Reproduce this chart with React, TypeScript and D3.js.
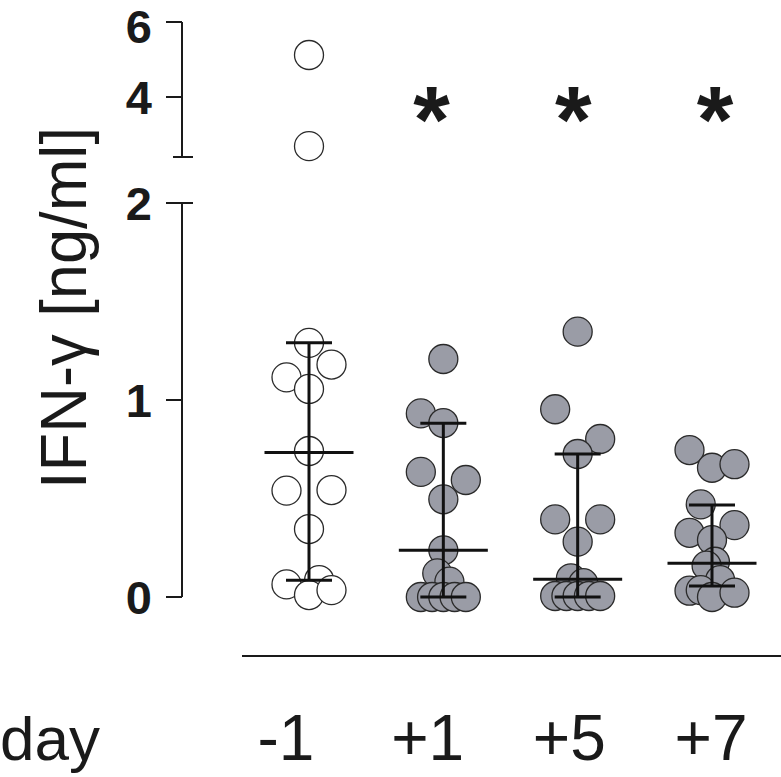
import React, { useEffect, useRef } from 'react';
import * as d3 from 'd3';

// days on the x axis
const days = ['-1', '+1', '+5', '+7'];

// IFN-gamma values per day (ng/ml)
const dayM1 = [5.12, 2.69, 1.29, 1.18, 1.115, 1.056, 0.741, 0.54, 0.543, 0.345, 0.064, 0.086, 0.01, 0.035];
const dayP1 = [1.208, 0.932, 0.883, 0.635, 0.594, 0.496, 0.237, 0.12, 0.078, 0.0, 0.0, 0.0, 0.0, 0.0];
const dayP5 = [1.347, 0.953, 0.802, 0.726, 0.394, 0.394, 0.281, 0.095, 0.07, 0.005, 0.005, 0.005, 0.005, 0.005];
const dayP7 = [0.746, 0.656, 0.674, 0.47, 0.326, 0.365, 0.289, 0.179, 0.159, 0.086, 0.032, 0.035, 0.0, 0.022];

// horizontal slot of each dot inside its column (dot-plot layout)
const slotM1 = [0, 0, 0, 1, -1, 0, 0, -1, 1, 0, -1, 0.45, 0, 1];
const slotP1 = [0, -1, 0, -1, 1, 0, 0, -0.27, 0.27, -1, -0.5, 0, 0.5, 1];
const slotP5 = [0, -1, 1, 0, -1, 1, 0, -0.3, 0.25, -1, -0.5, 0, 0.5, 1];
const slotP7 = [-1, 0, 1, -0.5, -1, 1, 0, 0.13, -0.24, 0.36, -1, -0.5, 0, 1];

// centre line and whiskers per day
const centre = [0.734, 0.237, 0.09, 0.171];
const upper = [1.29, 0.882, 0.726, 0.467];
const lower = [0.085, 0, 0, 0.056];

const lowTicks = [0, 1, 2];
const highTicks = [4, 6];
const significant = [false, true, true, true];

const App: React.FC = () => {
  const width = 781;
  const height = 777;
  const svgRef = useRef<SVGSVGElement>(null);

  useEffect(() => {
    if (!svgRef.current) return;
    const svg = d3.select(svgRef.current);
    svg.selectAll('*').remove();

    const font = '"Liberation Sans", Arial, Helvetica, sans-serif';
    const values = [dayM1, dayP1, dayP5, dayP7];
    const slots = [slotM1, slotP1, slotP5, slotP7];

    const x = d3.scalePoint<string>().domain(days).range([309, 712]);
    const xLabel = d3.scalePoint<string>().domain(days).range([286, 711]);
    const yLow = d3.scaleLinear().domain([0, 2]).range([597, 203]);
    const yHigh = d3.scaleLinear().domain([2.4, 6]).range([157, 22]);
    const y = (v: number) => (v > 2 ? yHigh(v) : yLow(v));

    const axisX = 182;
    const r = 14.5;
    const slotW = 22.5;

    // y axis, lower part
    svg.append('line')
      .attr('x1', axisX).attr('x2', axisX)
      .attr('y1', yLow(2)).attr('y2', yLow(0))
      .attr('stroke', '#1a1a1a').attr('stroke-width', 2);
    lowTicks.forEach(t => {
      svg.append('line')
        .attr('x1', 166).attr('x2', t === 2 ? 193 : axisX)
        .attr('y1', yLow(t)).attr('y2', yLow(t))
        .attr('stroke', '#1a1a1a').attr('stroke-width', 2);
      svg.append('text')
        .attr('x', 152).attr('y', yLow(t)).attr('dy', '0.36em')
        .attr('text-anchor', 'end')
        .attr('font-family', font).attr('font-weight', 'bold').attr('font-size', 47)
        .attr('fill', '#1a1a1a')
        .text(String(t));
    });

    // y axis, upper part
    svg.append('line')
      .attr('x1', axisX).attr('x2', axisX)
      .attr('y1', yHigh(6)).attr('y2', yHigh(2.4))
      .attr('stroke', '#1a1a1a').attr('stroke-width', 2);
    svg.append('line')
      .attr('x1', 173).attr('x2', 193)
      .attr('y1', yHigh(2.4)).attr('y2', yHigh(2.4))
      .attr('stroke', '#1a1a1a').attr('stroke-width', 2);
    highTicks.forEach(t => {
      svg.append('line')
        .attr('x1', 166).attr('x2', axisX)
        .attr('y1', yHigh(t)).attr('y2', yHigh(t))
        .attr('stroke', '#1a1a1a').attr('stroke-width', 2);
      svg.append('text')
        .attr('x', 152).attr('y', yHigh(t)).attr('dy', t === 6 ? '0.44em' : '0.36em')
        .attr('text-anchor', 'end')
        .attr('font-family', font).attr('font-weight', 'bold').attr('font-size', 47)
        .attr('fill', '#1a1a1a')
        .text(String(t));
    });

    // y title
    svg.append('text')
      .attr('transform', `translate(86, 308) rotate(-90)`)
      .attr('text-anchor', 'middle')
      .attr('font-family', font).attr('font-size', 64)
      .attr('fill', '#1a1a1a')
      .attr('textLength', 362).attr('lengthAdjust', 'spacingAndGlyphs')
      .text('IFN-γ [ng/ml]');

    // x axis line
    svg.append('line')
      .attr('x1', 242).attr('x2', 781)
      .attr('y1', 656).attr('y2', 656)
      .attr('stroke', '#1a1a1a').attr('stroke-width', 2);

    svg.append('text')
      .attr('x', 0).attr('y', 760)
      .attr('font-family', font).attr('font-size', 62)
      .attr('fill', '#1a1a1a')
      .text('day');

    days.forEach(d => {
      svg.append('text')
        .attr('x', xLabel(d)!).attr('y', 760)
        .attr('text-anchor', 'middle')
        .attr('font-family', font).attr('font-size', 64)
        .attr('fill', '#1a1a1a')
        .text(d);
    });

    // dots
    days.forEach((d, i) => {
      const cx = x(d)!;
      values[i].forEach((v, j) => {
        svg.append('circle')
          .attr('cx', cx + slots[i][j] * slotW)
          .attr('cy', y(v))
          .attr('r', r)
          .attr('fill', i === 0 ? '#ffffff' : '#9a9ca6')
          .attr('stroke', '#2a2a2a')
          .attr('stroke-width', 1.3);
      });
    });

    // centre line and whiskers
    days.forEach((d, i) => {
      const cx = x(d)!;
      const g = svg.append('g').attr('stroke', '#111').attr('stroke-width', 3);
      g.append('line').attr('x1', cx).attr('x2', cx).attr('y1', yLow(upper[i])).attr('y2', yLow(lower[i]));
      g.append('line').attr('x1', cx - 23).attr('x2', cx + 23).attr('y1', yLow(upper[i])).attr('y2', yLow(upper[i]));
      g.append('line').attr('x1', cx - 23).attr('x2', cx + 23).attr('y1', yLow(lower[i])).attr('y2', yLow(lower[i]));
      g.append('line').attr('x1', cx - 44.5).attr('x2', cx + 44.5).attr('y1', yLow(centre[i])).attr('y2', yLow(centre[i]));
    });

    // significance stars
    days.forEach((d, i) => {
      if (!significant[i]) return;
      svg.append('text')
        .attr('x', xLabel(d)! + 4).attr('y', 152)
        .attr('text-anchor', 'middle')
        .attr('font-family', font).attr('font-weight', 'bold').attr('font-size', 94)
        .attr('fill', '#1a1a1a')
        .text('*');
    });
  }, []);

  return (
    <svg
      ref={svgRef}
      width={width}
      height={height}
      style={{ position: 'absolute', left: 0, top: 0, background: '#fff' }}
    />
  );
};

export default App;
